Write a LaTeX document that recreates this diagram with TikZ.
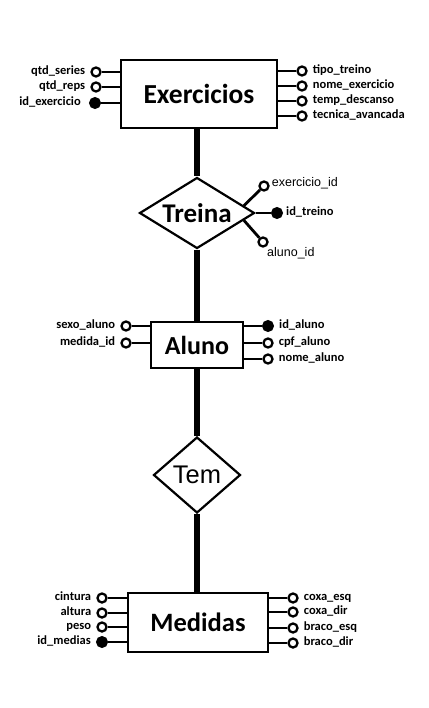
\documentclass[tikz,border=0pt]{standalone}
\usepackage{fontspec}
\setmainfont{Carlito}
\newfontfamily\arialf{Liberation Sans}
\usetikzlibrary{shapes.geometric,calc}
\begin{document}
\begin{tikzpicture}[x=1pt,y=-1pt,
  entity/.style={draw,line width=2.6pt,fill=white,inner sep=0pt,font=\fontsize{27.5}{30}\selectfont\bfseries},
  rel/.style={draw,diamond,line width=2.2pt,fill=white,inner sep=0pt},
  att/.style={circle,draw,line width=2.3pt,fill=white,minimum size=9pt,inner sep=0pt},
  keyatt/.style={circle,draw,line width=1pt,fill=black,minimum size=11pt,inner sep=0pt},
  alink/.style={line width=2.8pt},
  main/.style={line width=5.5pt},
  lbl/.style={font=\fontsize{12.5}{14}\selectfont\bfseries,inner sep=0pt,text height=8.5pt,text depth=3.5pt},
  labL/.style={lbl,xshift=-5pt},
  labR/.style={lbl,xshift=5pt},
  lbr/.style={font=\arialf\fontsize{12.5}{14}\selectfont,inner sep=0pt}
]
\useasboundingbox (0,0) rectangle (428,708);
% entities
\node[entity,minimum width=156pt,minimum height=68pt] (ex) at (199,94) {Exercicios};
\node[rel,aspect=1.62,minimum width=115pt,minimum height=71pt,font=\fontsize{27}{30}\selectfont\bfseries] (tr) at (197,213) {Treina};
\node[entity,minimum width=92pt,minimum height=46pt,font=\fontsize{26}{28}\selectfont\bfseries] (al) at (197,345) {Aluno};
\node[rel,aspect=1.14,minimum width=87pt,minimum height=76pt,font=\arialf\fontsize{25.5}{28}\selectfont] (tm) at (197,475) {Tem};
\node[entity,minimum width=140pt,minimum height=59pt,font=\fontsize{26.5}{28}\selectfont\bfseries] (md) at (198,622.5) {Medidas};
% main line
\draw[main] (tr.north |- ex.south) -- (tr.north);
\draw[main] (tr.south) -- (al.north);
\draw[main] (al.south) -- (tm.north);
\draw[main] (tm.south) -- (tm.south |- md.north);
% Exercicios attributes
\node[att,label={[labL]left:qtd\_series}] (e1) at (96,72) {};
\node[att,label={[labL]left:qtd\_reps}] (e2) at (96,87) {};
\node[keyatt,label={[labL,xshift=-3pt]left:id\_exercicio}] (e3) at (95,103) {};
\node[att,label={[labR]right:tipo\_treino}] (e4) at (302,71) {};
\node[att,label={[labR]right:nome\_exercicio}] (e5) at (302,86) {};
\node[att,label={[labR]right:temp\_descanso}] (e6) at (302,101) {};
\node[att,label={[labR]right:tecnica\_avancada}] (e7) at (302,116) {};
\foreach \c in {e1,e2,e3} \draw[alink] (\c) -- (\c -| ex.west);
\foreach \c in {e4,e5,e6,e7} \draw[alink] (\c) -- (\c -| ex.east);
% Treina attributes
\node[att,label={[lbr,anchor=west,yshift=3pt,xshift=2pt]right:exercicio\_id}] (t1) at (264,186) {};
\node[keyatt,label={[lbl,anchor=west,xshift=3pt]right:id\_treino}] (t2) at (277,213) {};
\node[att,label={[lbr,anchor=north west,xshift=0pt,yshift=-1pt]south east:aluno\_id}] (t3) at (263,242) {};
\draw[alink] ($(tr.east)!0.2!(tr.north)$) -- (t1);
\draw[alink] (tr.east) -- (t2);
\draw[alink] ($(tr.east)!0.2!(tr.south)$) -- (t3);
% Aluno attributes
\node[att,label={[labL]left:sexo\_aluno}] (a1) at (126,326) {};
\node[att,label={[labL]left:medida\_id}] (a2) at (126,343) {};
\node[keyatt,label={[labR]right:id\_aluno}] (a3) at (268,326) {};
\node[att,label={[labR]right:cpf\_aluno}] (a4) at (268,343) {};
\node[att,label={[labR]right:nome\_aluno}] (a5) at (268,359) {};
\foreach \c in {a1,a2} \draw[alink] (\c) -- (\c -| al.west);
\foreach \c in {a3,a4,a5} \draw[alink] (\c) -- (\c -| al.east);
% Medidas attributes
\node[att,label={[labL]left:cintura}] (m1) at (102,598) {};
\node[att,label={[labL]left:altura}] (m2) at (102,613) {};
\node[att,label={[labL]left:peso}] (m3) at (102,627) {};
\node[keyatt,label={[labL]left:id\_medias}] (m4) at (102,642) {};
\node[att,label={[labR]right:coxa\_esq}] (m5) at (293,598) {};
\node[att,label={[labR]right:coxa\_dir}] (m6) at (293,612) {};
\node[att,label={[labR]right:braco\_esq}] (m7) at (293,628) {};
\node[att,label={[labR]right:braco\_dir}] (m8) at (293,643) {};
\foreach \c in {m1,m2,m3,m4} \draw[alink] (\c) -- (\c -| md.west);
\foreach \c in {m5,m6,m7,m8} \draw[alink] (\c) -- (\c -| md.east);
\end{tikzpicture}
\end{document}
